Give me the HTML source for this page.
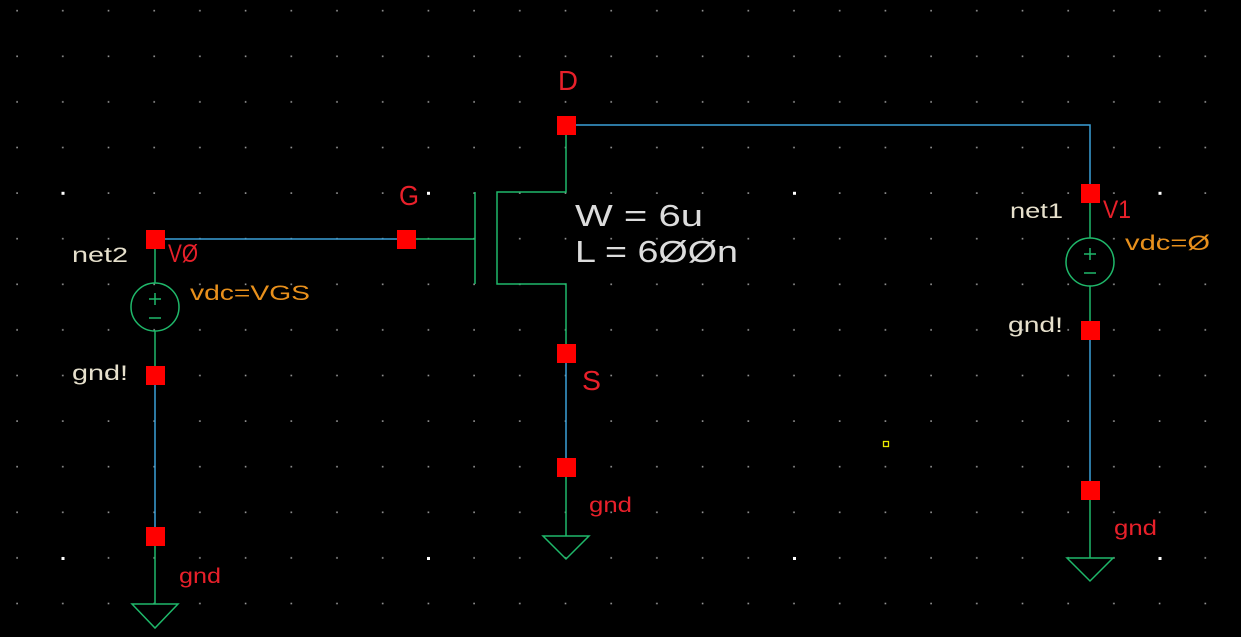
<!DOCTYPE html>
<html><head><meta charset="utf-8"><style>
html,body{margin:0;padding:0;background:#000;width:1241px;height:637px;overflow:hidden}
svg{display:block}
text{font-family:"Liberation Sans",sans-serif}
</style></head><body>
<svg width="1241" height="637" viewBox="0 0 1241 637" xmlns="http://www.w3.org/2000/svg">
<defs>
<pattern id="g" x="16" y="9.6" width="45.7" height="45.6" patternUnits="userSpaceOnUse">
<rect x="0.3" y="0.3" width="1.6" height="1.6" fill="#9a9a9a"/>
</pattern>
</defs>
<rect width="1241" height="637" fill="#000"/>
<rect width="1241" height="637" fill="url(#g)"/>
<g fill="#fff">
<rect x="61.5" y="191.8" width="3" height="3"/><rect x="427" y="191.8" width="3" height="3"/><rect x="793" y="191.8" width="3" height="3"/><rect x="1158.5" y="191.8" width="3" height="3"/>
<rect x="61.5" y="557" width="3" height="3"/><rect x="427" y="557" width="3" height="3"/><rect x="793" y="557" width="3" height="3"/><rect x="1158.5" y="557" width="3" height="3"/>
</g>
<g stroke="#3aa0d8" stroke-width="1.5" fill="none">
<line x1="155" y1="239" x2="406" y2="239"/>
<line x1="155" y1="375" x2="155" y2="536"/>
<polyline points="566,125 1090,125 1090,193"/>
<line x1="566" y1="353" x2="566" y2="467"/>
<line x1="1090" y1="330" x2="1090" y2="490"/>
</g>
<g stroke="#1fb86a" stroke-width="1.5" fill="none">
<line x1="155" y1="239" x2="155" y2="283"/>
<circle cx="155" cy="307" r="24"/>
<line x1="155" y1="331" x2="155" y2="375"/>
<line x1="155" y1="293" x2="155" y2="305"/><line x1="149" y1="299" x2="161" y2="299"/><line x1="149" y1="318" x2="161" y2="318"/>
<line x1="155" y1="536" x2="155" y2="604"/>
<polygon points="132,604 178,604 155,628"/>
<line x1="406" y1="239" x2="475" y2="239"/>
<line x1="475" y1="192" x2="475" y2="284"/>
<polyline points="566,125 566,192 497,192 497,284 566,284 566,353"/>
<line x1="566" y1="467" x2="566" y2="536"/>
<polygon points="543,536 589,536 566,559"/>
<line x1="1090" y1="193" x2="1090" y2="238"/>
<circle cx="1090" cy="262" r="24"/>
<line x1="1090" y1="286" x2="1090" y2="330"/>
<line x1="1090" y1="248" x2="1090" y2="260"/><line x1="1084" y1="254" x2="1096" y2="254"/><line x1="1084" y1="273" x2="1096" y2="273"/>
<line x1="1090" y1="490" x2="1090" y2="558"/>
<polygon points="1067,558 1113,558 1090,581"/>
</g>
<g fill="#ff0000">
<rect x="146" y="230" width="19" height="19"/>
<rect x="146" y="366" width="19" height="19"/>
<rect x="146" y="527" width="19" height="19"/>
<rect x="397" y="230" width="19" height="19"/>
<rect x="557" y="116" width="19" height="19"/>
<rect x="557" y="344" width="19" height="19"/>
<rect x="557" y="458" width="19" height="19"/>
<rect x="1081" y="184" width="19" height="19"/>
<rect x="1081" y="321" width="19" height="19"/>
<rect x="1081" y="481" width="19" height="19"/>
</g>
<rect x="883.5" y="441.5" width="5" height="5" fill="none" stroke="#e8e800" stroke-width="1.3"/>
<g font-size="21">
<text x="72" y="262" fill="#e6e0cc" textLength="56" lengthAdjust="spacingAndGlyphs">net2</text>
<text x="72" y="380" fill="#e6e0cc" textLength="56" lengthAdjust="spacingAndGlyphs">gnd!</text>
<text x="1010" y="218" fill="#e6e0cc" textLength="53" lengthAdjust="spacingAndGlyphs">net1</text>
<text x="1008" y="332" fill="#e6e0cc" textLength="55" lengthAdjust="spacingAndGlyphs">gnd!</text>
<text x="190" y="300" fill="#e8901c" textLength="120" lengthAdjust="spacingAndGlyphs">vdc=VGS</text>
<text x="1125" y="250" fill="#e8901c" textLength="85" lengthAdjust="spacingAndGlyphs">vdc=Ø</text>
<text x="589" y="512" fill="#e8202a" textLength="43" lengthAdjust="spacingAndGlyphs">gnd</text>
<text x="179" y="583" fill="#e8202a" textLength="42" lengthAdjust="spacingAndGlyphs">gnd</text>
<text x="1114" y="535" fill="#e8202a" textLength="43" lengthAdjust="spacingAndGlyphs">gnd</text>
</g>
<g font-size="25" fill="#e8202a">
<text x="168" y="262" textLength="30" lengthAdjust="spacingAndGlyphs">VØ</text>
<text x="1103" y="218" textLength="28" lengthAdjust="spacingAndGlyphs">V1</text>
</g>
<g font-size="28" fill="#e8202a">
<text x="399" y="205" textLength="20" lengthAdjust="spacingAndGlyphs">G</text>
<text x="558" y="90" textLength="20" lengthAdjust="spacingAndGlyphs">D</text>
<text x="582" y="390" textLength="19" lengthAdjust="spacingAndGlyphs">S</text>
</g>
<g font-size="31" fill="#dcdcdc">
<text x="575" y="226" textLength="128" lengthAdjust="spacingAndGlyphs">W = 6u</text>
<text x="575" y="262" textLength="163" lengthAdjust="spacingAndGlyphs">L = 6ØØn</text>
</g>
</svg>
</body></html>
